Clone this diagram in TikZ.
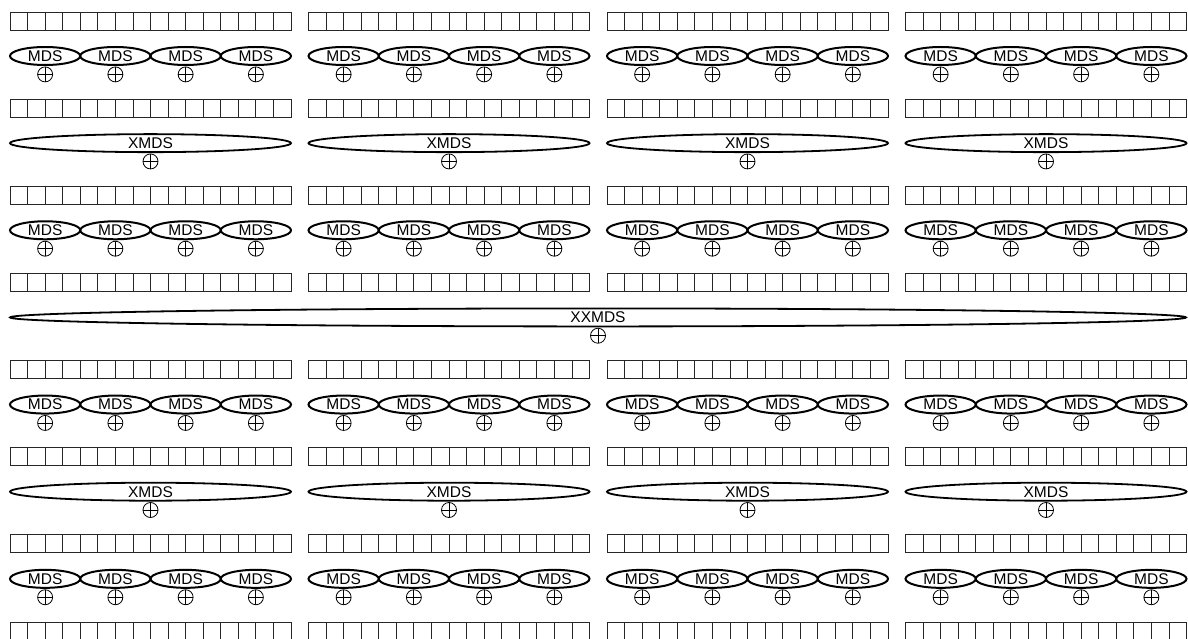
\documentclass[tikz,border=0pt]{standalone}
\usepackage{fontspec}
\setmainfont{Liberation Sans}
\usetikzlibrary{positioning, shapes.geometric}

\begin{document}
\begin{tikzpicture}[
    x=1pt, y=-1pt,
    cell/.style={draw=black!85, line width=0.8pt},
    mds/.style={ellipse, draw=black, line width=2pt, minimum width=70.25pt,
                minimum height=18pt, inner sep=0pt, font=\fontsize{15.5}{15.5}\selectfont},
    xmds/.style={mds, line width=1.8pt, minimum width=281pt},
    xxmds/.style={mds, line width=1.8pt, minimum width=1176pt},
    xorgate/.style={circle, draw=black, line width=0.8pt, minimum size=15pt, inner sep=0pt,
                    path picture={\draw[line width=0.8pt]
                      (path picture bounding box.north) -- (path picture bounding box.south)
                      (path picture bounding box.west) -- (path picture bounding box.east);}},
    node distance=0.5pt
]
\useasboundingbox (0,0) rectangle (1188,639);

% State rows
\foreach \r in {0,...,7}
  \foreach \g in {0,...,3}
    \foreach \c in {0,...,15}
      \draw[cell] ({10+298.5*\g+17.5625*\c}, {12+87.14*\r}) rectangle ++(17.5625,18);

% MDS layers
\foreach \r in {0,2,4,6}
  \foreach \g in {0,...,3}
    \foreach \m in {0,...,3} {
      \node[mds] (mds-\r-\g-\m) at ({45.125+298.5*\g+70.25*\m}, {56+87.14*\r}) {MDS};
      \node[xorgate, below=of mds-\r-\g-\m] (add-\r-\g-\m) {};
    }

% XMDS layers
\foreach \r in {1,5}
  \foreach \g in {0,...,3} {
    \node[xmds] (xmds-\r-\g) at ({150.5+298.5*\g}, {56+87.14*\r}) {XMDS};
    \node[xorgate, below=of xmds-\r-\g] (xadd-\r-\g) {};
  }

% XXMDS layer
\node[xxmds] (xxmds) at (598, {56+87.14*3}) {XXMDS};
\node[xorgate, below=of xxmds] (xxadd) {};

\end{tikzpicture}
\end{document}
